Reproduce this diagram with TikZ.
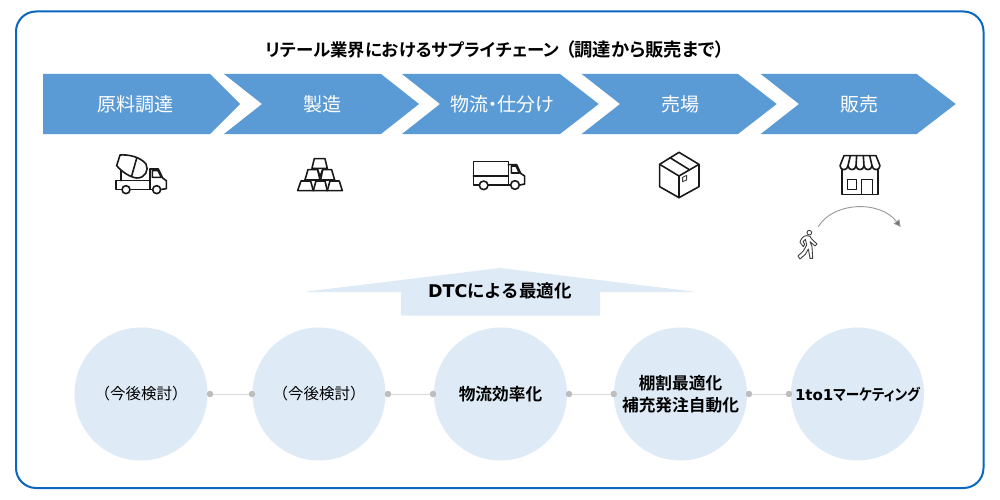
\documentclass[tikz,border=0pt]{standalone}
\usepackage{graphicx}
\usepackage{fontspec}
\setmainfont{Liberation Sans}
\newfontfamily\jp[BoldFont={Noto Sans CJK JP Bold}]{Noto Sans CJK JP}
\newfontfamily\jpp[BoldFont={Noto Sans CJK JP Bold},RawFeature={+palt}]{Noto Sans CJK JP}
\newfontfamily\lat[BoldFont={DejaVu Sans Bold}]{DejaVu Sans}
\usetikzlibrary{arrows.meta}
\definecolor{frameblue}{HTML}{0A66BE}
\definecolor{chev}{HTML}{5B9BD5}
\definecolor{pale}{HTML}{DEEAF6}
\definecolor{dotgrey}{HTML}{BDBDBD}
\definecolor{linkgrey}{HTML}{D9D9D9}
\tikzset{
  chevtext/.style={text=white,font=\jp\fontsize{19}{19}\selectfont,inner sep=0pt},
  chevshape/.style={fill=chev,draw=none},
  ttl/.style={text=black,font=\jpp\bfseries,inner sep=0pt},
  stage/.style={circle,fill=pale,draw=none,minimum size=133pt,inner sep=0pt,align=center,text=black},
  stagereg/.style={stage,font=\jp\fontsize{15.5}{22}\selectfont},
  stagebold/.style={stage,font=\jp\bfseries\fontsize{16.7}{22}\selectfont},
  dotnode/.style={circle,fill=dotgrey,draw=none,minimum size=6.5pt,inner sep=0pt},
  link/.style={draw=linkgrey,line width=1pt},
  icon/.style={draw=black!90,line width=1.6pt,line join=round,line cap=round},
  thin icon/.style={draw=black!75,line width=0.9pt,line join=round,line cap=round},
  crop/.style={x=0.3333pt,y=-0.3333pt}
}
\begin{document}
\begin{tikzpicture}[x=1pt,y=-1pt]
\path[use as bounding box,fill=white] (0,0) rectangle (1000,500);
\draw[frameblue,line width=2pt,rounded corners=20pt] (16,11.5) rectangle (983.5,488);
\node[ttl] (title) at (495,50) {{\fontsize{17.4}{20}\selectfont リテール業界におけるサプライチェーン}\kern6pt{\fontsize{18.3}{20}\selectfont （調達から販売まで）}};

\fill[chevshape] (43,74) -- (210,74) -- (240,104) -- (210,134) -- (43,134) -- cycle;
\fill[chevshape] (224,74) -- (381,74) -- (419,104) -- (381,134) -- (224,134) -- (262,104) -- cycle;
\fill[chevshape] (402,74) -- (560,74) -- (598.7,104) -- (560,134) -- (402,134) -- (440,104) -- cycle;
\fill[chevshape] (581.7,74) -- (738,74) -- (776.7,104) -- (738,134) -- (581.7,134) -- (620,104) -- cycle;
\fill[chevshape] (760.7,74) -- (916.7,74) -- (955.7,104) -- (916.7,134) -- (760.7,134) -- (799,104) -- cycle;
\node[chevtext] (c1) at (135.5,104) {原料調達};
\node[chevtext] (c2) at (322.7,104) {製造};
\node[chevtext] (c3) at (502,104) {物流\kern-5pt・\kern-5pt仕分け};
\node[chevtext] (c4) at (680,104) {売場};
\node[chevtext] (c5) at (859,104) {販売};

% mixer truck
\begin{scope}[shift={(90,140)},crop]
\draw[icon] (90,45) .. controls (115,43) and (150,50) .. (168,72) .. controls (178,90) and (165,115) .. (140,114) .. controls (120,112) and (95,95) .. (80,77) -- cycle;
\draw[icon] (140,55) -- (125,108);
\draw[icon] (93,92) -- (93,122);
\draw[icon] (78,122) -- (180,122);
\draw[icon] (94,148) -- (78,148) -- (78,122);
\draw[icon] (123,148) -- (185,148);
\draw[icon] (180,87) -- (180,148);
\draw[icon] (180,87) -- (205,87) -- (218,114) -- (229,122) -- (229,146) -- (215,148);
\draw[icon] (187,92) -- (204,92) -- (214,112) -- (187,112) -- cycle;
\draw[icon] (108,149) circle (12);
\draw[icon] (200,149) circle (12);
\end{scope}

% gold bars
\begin{scope}[crop]
\draw[icon] (893,572) -- (903,543) -- (932,543) -- (940,572) -- cycle;
\draw[icon] (940,572) -- (948,543) -- (975,543) -- (982,572) -- cycle;
\draw[icon] (982,572) -- (990,543) -- (1018,543) -- (1027,572) -- cycle;
\draw[icon] (915,540) -- (924,509) -- (953,509) -- (960,540);
\draw[icon] (962,540) -- (968,509) -- (995,509) -- (1004,540);
\draw[icon] (936,505) -- (943,476) -- (975,476) -- (982,505) -- cycle;
\draw[icon] (915,540) -- (1004,540);
\draw[icon] (953,509) -- (960,530) -- (968,509);
\end{scope}

% truck
\begin{scope}[shift={(450,140)},crop]
\draw[icon] (86,135) -- (70,135) -- (70,64) -- (175,64) -- (175,135);
\draw[icon] (70,108) -- (175,108);
\draw[icon] (115,135) -- (180,135);
\draw[icon] (175,74) -- (200,74) -- (212,100) -- (224,108) -- (224,132) -- (210,135);
\draw[icon] (184,78) -- (198,78) -- (208,99) -- (184,99) -- cycle;
\draw[icon] (101,136) circle (13);
\draw[icon] (195,135) circle (13);
\end{scope}

% parcel
\begin{scope}[shift={(450,140)},crop]
\draw[icon] (687,37) -- (747,73) -- (747,140) -- (687,173) -- (629,140) -- (629,73) -- cycle;
\draw[icon] (629,73) -- (687,108) -- (747,73);
\draw[icon] (687,108) -- (687,173);
\draw[icon] (660,53) -- (718,89);
\draw[thin icon] (698,112) -- (710,106) -- (710,120) -- (698,125) -- cycle;
\end{scope}

% shop
\begin{scope}[shift={(780,145)},crop]
\draw[icon] (192,32) -- (288,32) -- (300,62) .. controls (300,78) and (277,78) .. (276,62) .. controls (275,78) and (253,78) .. (252,62) .. controls (251,78) and (229,78) .. (228,62) .. controls (227,78) and (205,78) .. (204,62) .. controls (203,78) and (180,78) .. (180,62) -- cycle;
\draw[icon] (211,32) -- (204,62);
\draw[icon] (230,32) -- (228,62);
\draw[icon] (250,32) -- (252,62);
\draw[icon] (269,32) -- (276,62);
\draw[icon] (186,74) -- (186,148) -- (294,148) -- (294,74);
\draw[icon] (202,103) rectangle (230,133);
\draw[icon] (245,148) -- (245,103) -- (278,103) -- (278,148);
\end{scope}

% walker
\begin{scope}[shift={(780,145)},crop]
\draw[thin icon] (88,263) circle (7);
\draw[thin icon] (80,272) .. controls (70,272) and (62,282) .. (60,292) -- (70,305) -- (74,298) -- (69,290) -- (76,283) -- (80,300) -- (70,318) -- (54,333) -- (60,342) -- (76,328) -- (85,312) -- (90,340) -- (98,340) -- (96,305) -- (90,290) -- (105,303) -- (111,297) -- (95,282) -- (90,274) -- cycle;
\coordinate (arcstart) at (115,245);
\coordinate (arcend) at (362,246);
\draw[draw=black!40,line width=0.9pt,-{Triangle[length=7pt,width=7pt,fill=black!55]}] (arcstart) .. controls (160,170) and (300,165) .. (arcend);
\end{scope}

% up arrow
\fill[pale] (500,268) -- (697,292) -- (600,292) -- (600,315.5) -- (401,315.5) -- (401,292) -- (303,292) -- cycle;
\node[font=\bfseries,inner sep=0pt,text=black] (dtc) at (500,291) {{\lat\fontsize{17.5}{20}\selectfont DTC}{\jp\fontsize{17.5}{20}\selectfont による最適化}};

% circles
\node[stagereg] (s1) at (141,394) {（今後検討）};
\node[stagereg] (s2) at (319,394) {（今後検討）};
\node[stagebold] (s3) at (500.5,394) {物流効率化};
\node[stagebold] (s4) at (680.5,394) {棚割最適化\\補充発注自動化};
\node[stage,font=\bfseries] (s5) at (857.5,394) {{\lat\fontsize{15}{20}\selectfont 1to1}{\scalebox{0.88}[1]{\jpp\fontsize{15.5}{20}\selectfont マーケティング}}};

\foreach \n/\xa/\xb in {1/210/252,2/388/433,3/569/613.7,4/749/789}{
  \node[dotnode] (a\n) at (\xa,394) {};
  \node[dotnode] (b\n) at (\xb,394) {};
  \draw[link] (a\n) -- (b\n);
}
\end{tikzpicture}
\end{document}
